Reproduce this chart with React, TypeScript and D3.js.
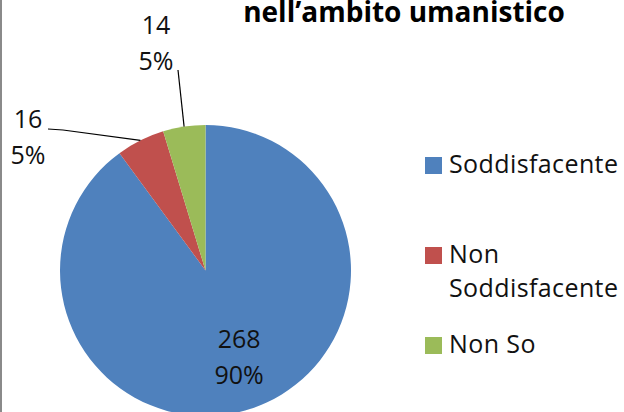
import React, { useEffect, useRef } from "react";
import * as d3 from "d3";

// data
const categories = ["Soddisfacente", "Non Soddisfacente", "Non So"];
const values = [268, 16, 14];
const colors = ["#4F81BD", "#C0504D", "#9BBB59"];
const legendLines = [["Soddisfacente"], ["Non", "Soddisfacente"], ["Non So"]];
const title = "nell\u2019ambito umanistico";

const W = 624;
const H = 412;

export default function App() {
    const ref = useRef<SVGSVGElement | null>(null);

    useEffect(() => {
        drawChart();
    }, []);

    const drawChart = () => {
        const svg = d3.select(ref.current);
        svg.selectAll("*").remove();

        const font = "'Open Sans', 'Noto Sans', sans-serif";
        const cx = 205.5;
        const cy = 270.5;
        const r = 145.5;
        const total = d3.sum(values);

        svg.append("rect").attr("width", W).attr("height", H).attr("fill", "#fff");
        // left frame edge
        svg.append("rect").attr("x", 0).attr("y", 0).attr("width", 2).attr("height", H).attr("fill", "#8a8a8a");

        // title (cropped at top in the original)
        svg.append("text")
            .attr("x", 404)
            .attr("y", 22)
            .attr("text-anchor", "middle")
            .attr("font-family", font)
            .attr("font-weight", "bold")
            .attr("font-size", 28)
            .attr("fill", "#000")
            .text(title);

        const pie = d3.pie<number>().sort(null).value(d => d);
        const arcs = pie(values);
        const arc = d3.arc<d3.PieArcDatum<number>>().innerRadius(0).outerRadius(r);
        const edgeArc = d3.arc<d3.PieArcDatum<number>>().innerRadius(r).outerRadius(r);
        const insideArc = d3.arc<d3.PieArcDatum<number>>().innerRadius(92).outerRadius(92);

        const g = svg.append("g").attr("transform", `translate(${cx},${cy})`);
        g.selectAll("path")
            .data(arcs)
            .enter()
            .append("path")
            .attr("d", arc)
            .attr("fill", (_, i) => colors[i]);

        const pct = (v: number) => `${Math.round((v / total) * 100)}%`;

        // inside label for the big slice
        const [ix, iy] = insideArc.centroid(arcs[0]);
        const inside = g.append("text")
            .attr("text-anchor", "middle")
            .attr("font-family", font)
            .attr("font-size", 25)
            .attr("fill", "#111");
        inside.append("tspan").attr("x", ix + 5).attr("y", iy - 10).text(values[0]);
        inside.append("tspan").attr("x", ix + 5).attr("y", iy + 26).text(pct(values[0]));

        // outside labels (placed by hand in the original) with leader lines
        const outside = [
            { i: 1, x: 28, y: 128, line: [[48, 129], [63, 130]] },
            { i: 2, x: 156, y: 34, line: [[178, 70]] },
        ];
        outside.forEach(o => {
            const t = svg.append("text")
                .attr("text-anchor", "middle")
                .attr("font-family", font)
                .attr("font-size", 25)
                .attr("fill", "#111");
            t.append("tspan").attr("x", o.x).attr("y", o.y).text(values[o.i]);
            t.append("tspan").attr("x", o.x).attr("y", o.y + 36).text(pct(values[o.i]));

            const [ex, ey] = edgeArc.centroid(arcs[o.i]);
            const pts: [number, number][] = [...o.line.map(p => [p[0], p[1]] as [number, number]), [cx + ex, cy + ey]];
            svg.append("path")
                .attr("d", d3.line()(pts))
                .attr("fill", "none")
                .attr("stroke", "#000")
                .attr("stroke-width", 1.2);
        });

        // legend
        const legendY = d3.scalePoint<string>().domain(categories).range([157, 337]);
        const legend = svg.append("g");
        categories.forEach((c, i) => {
            const y = legendY(c) as number;
            legend.append("rect")
                .attr("x", 425)
                .attr("y", i === 1 ? 247 : y)
                .attr("width", 17)
                .attr("height", 17)
                .attr("fill", colors[i]);
            const t = legend.append("text")
                .attr("font-family", font)
                .attr("font-size", 25)
                .attr("letter-spacing", 0.4)
                .attr("fill", "#111");
            legendLines[i].forEach((line, j) => {
                t.append("tspan")
                    .attr("x", 449)
                    .attr("y", (i === 1 ? 247 : y) + 16 + j * 34)
                    .text(line);
            });
        });
    };

    return (
        <svg
            ref={ref}
            width={W}
            height={H}
            style={{ position: "absolute", left: 0, top: 0, display: "block" }}
        />
    );
}
